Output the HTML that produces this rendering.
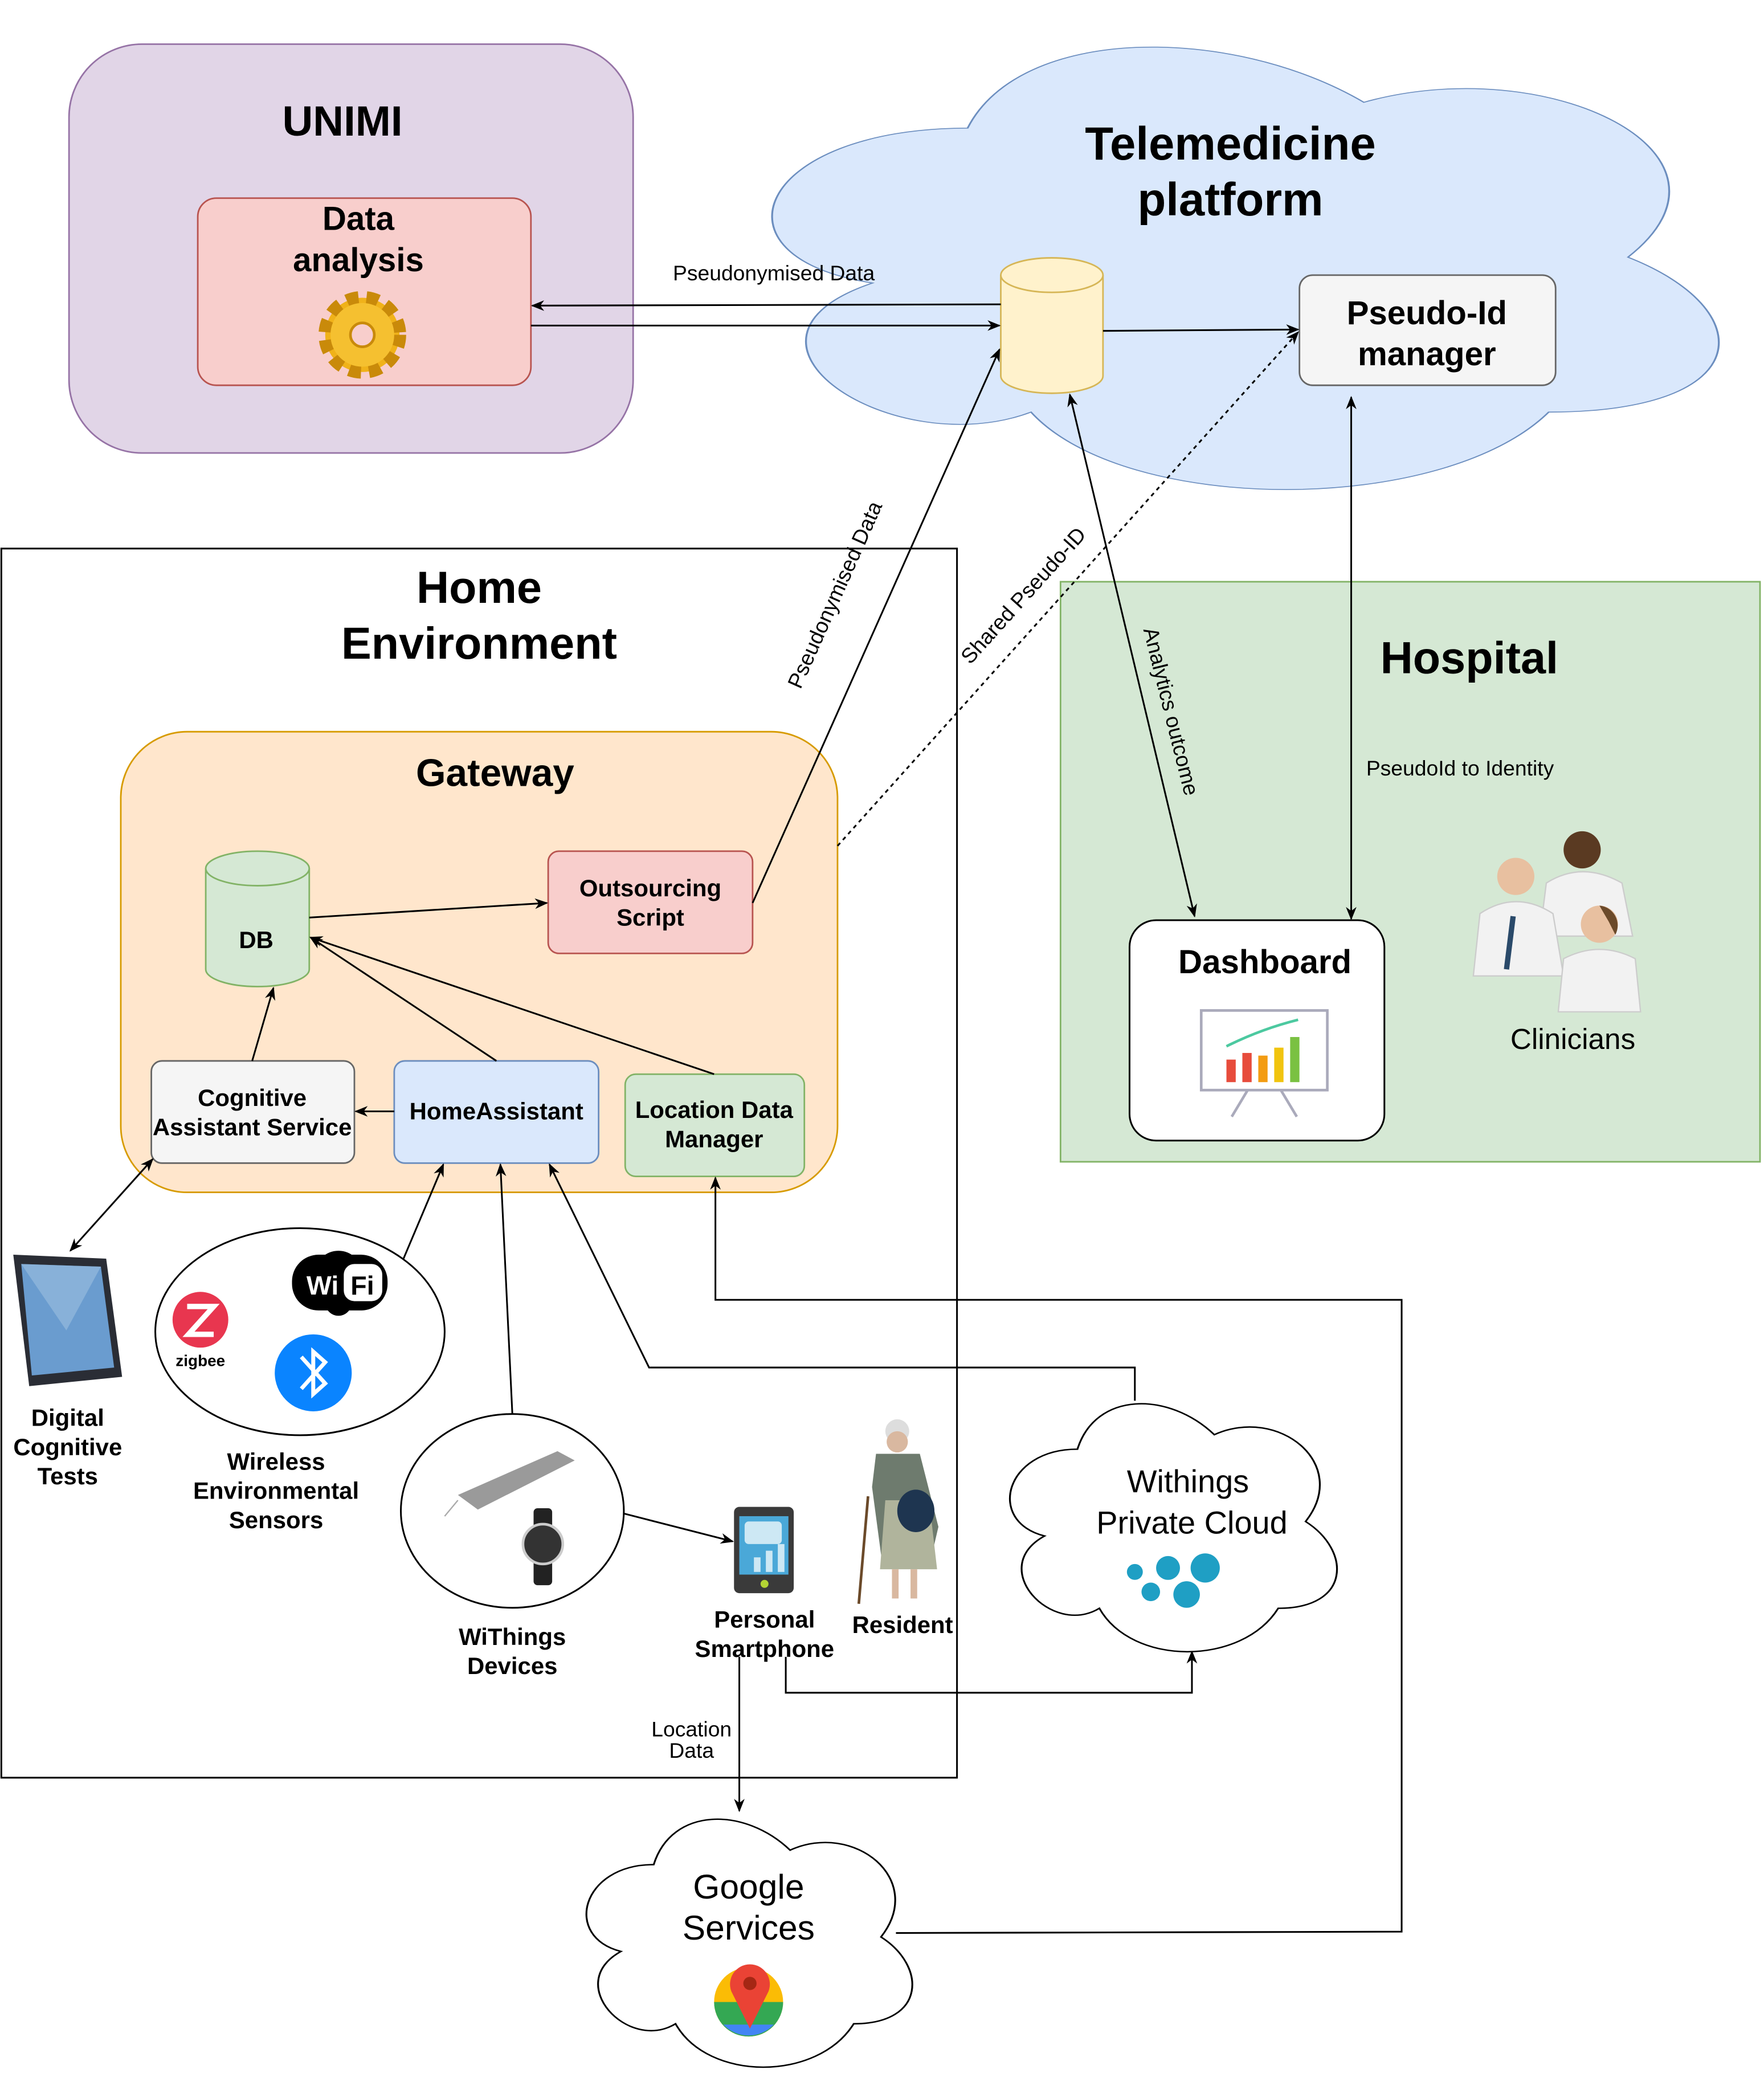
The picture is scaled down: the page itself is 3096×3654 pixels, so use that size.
<!DOCTYPE html>
<html><head><meta charset="utf-8"><style>
html,body{margin:0;padding:0;background:#fff;}
svg{display:block;}
text{font-family:"Liberation Sans",Helvetica,Arial,sans-serif;}
.b{font-weight:bold;}
</style></head><body>
<svg width="3096" height="3654" viewBox="0 0 1329 1568" xmlns="http://www.w3.org/2000/svg">
<defs>
<marker id="a" markerWidth="10" markerHeight="10" refX="9" refY="5" orient="auto" markerUnits="userSpaceOnUse"><path d="M0,1 L10,5 L0,9 L3,5 Z" fill="#000"/></marker>
<marker id="s" markerWidth="10" markerHeight="10" refX="1" refY="5" orient="auto" markerUnits="userSpaceOnUse"><path d="M10,1 L0,5 L10,9 L7,5 Z" fill="#000"/></marker>
<path id="cloud" d="M0.25,0.25 C0.05,0.25 0,0.5 0.16,0.55 C0,0.66 0.18,0.9 0.31,0.8 C0.4,1 0.7,1 0.8,0.8 C1,0.8 1,0.6 0.875,0.5 C1,0.3 0.8,0.1 0.625,0.2 C0.5,0.05 0.3,0.05 0.25,0.25 Z"/>
</defs>

<!-- UNIMI -->
<rect x="52" y="33" width="425" height="308" rx="55" fill="#e1d5e7" stroke="#9673a6" stroke-width="1.2"/>
<text x="258" y="102" font-size="32" class="b" text-anchor="middle">UNIMI</text>
<rect x="149" y="149" width="251" height="141" rx="14" fill="#f8cecc" stroke="#b85450" stroke-width="1.2"/>
<text x="270" y="173" font-size="25" class="b" text-anchor="middle">Data</text>
<text x="270" y="204" font-size="25" class="b" text-anchor="middle">analysis</text>
<g transform="translate(273,252)">
<circle r="28" fill="#f0b21a" stroke="#c98a0a" stroke-width="10" stroke-dasharray="9 6"/>
<circle r="24" fill="#f5c030"/><circle r="9" fill="#f8cecc" stroke="#c98a0a" stroke-width="2"/>
</g>

<!-- Telemedicine cloud -->
<use href="#cloud" transform="translate(530,-1) scale(796,389)" fill="#dae8fc" stroke="#6c8ebf" stroke-width="0.0018"/>
<text x="927" y="120" font-size="35" class="b" text-anchor="middle">Telemedicine</text>
<text x="927" y="162" font-size="35" class="b" text-anchor="middle">platform</text>
<path d="M754,207 L754,283 A38.5,13 0 0 0 831,283 L831,207" fill="#fff2cc" stroke="#d6b656" stroke-width="1.2"/>
<ellipse cx="792.5" cy="207" rx="38.5" ry="13" fill="#fff2cc" stroke="#d6b656" stroke-width="1.2"/>
<rect x="979" y="207" width="193" height="83" rx="10" fill="#f5f5f5" stroke="#666" stroke-width="1.2"/>
<text x="1075" y="244" font-size="25" class="b" text-anchor="middle">Pseudo-Id</text>
<text x="1075" y="275" font-size="25" class="b" text-anchor="middle">manager</text>

<!-- Home env -->
<rect x="1" y="413" width="720" height="926" fill="#fff" stroke="#000" stroke-width="1.3"/>
<text x="361" y="454" font-size="34" class="b" text-anchor="middle">Home</text>
<text x="361" y="496" font-size="34" class="b" text-anchor="middle">Environment</text>

<!-- Hospital -->
<rect x="799" y="438" width="527" height="437" fill="#d5e8d4" stroke="#82b366" stroke-width="1.2"/>
<text x="1107" y="507" font-size="34" class="b" text-anchor="middle">Hospital</text>
<text x="1100" y="584" font-size="16" text-anchor="middle">PseudoId to Identity</text>

<!-- telemedicine arrows -->
<line x1="754" y1="229" x2="401" y2="230" stroke="#000" stroke-width="1.3" marker-end="url(#a)"/>
<line x1="400" y1="245" x2="753" y2="245" stroke="#000" stroke-width="1.3" marker-end="url(#a)"/>
<text x="583" y="211" font-size="16" text-anchor="middle">Pseudonymised Data</text>
<line x1="831" y1="249" x2="978" y2="248" stroke="#000" stroke-width="1.3" marker-end="url(#a)"/>

<!-- Gateway -->
<rect x="91" y="551" width="540" height="347" rx="50" fill="#ffe6cc" stroke="#d79b00" stroke-width="1.2"/>
<text x="373" y="592" font-size="29" class="b" text-anchor="middle">Gateway</text>
<path d="M155,654 L155,730 A39,13 0 0 0 233,730 L233,654" fill="#d5e8d4" stroke="#82b366" stroke-width="1.2"/>
<ellipse cx="194" cy="654" rx="39" ry="13" fill="#d5e8d4" stroke="#82b366" stroke-width="1.2"/>
<text x="193" y="714" font-size="18" class="b" text-anchor="middle">DB</text>
<rect x="413" y="641" width="154" height="77" rx="8" fill="#f8cecc" stroke="#b85450" stroke-width="1.2"/>
<text x="490" y="675" font-size="18" class="b" text-anchor="middle">Outsourcing</text>
<text x="490" y="697" font-size="18" class="b" text-anchor="middle">Script</text>
<rect x="114" y="799" width="153" height="77" rx="8" fill="#f5f5f5" stroke="#666" stroke-width="1.2"/>
<text x="190" y="833" font-size="18" class="b" text-anchor="middle">Cognitive</text>
<text x="190" y="855" font-size="18" class="b" text-anchor="middle">Assistant Service</text>
<rect x="297" y="799" width="154" height="77" rx="8" fill="#dae8fc" stroke="#6c8ebf" stroke-width="1.2"/>
<text x="374" y="843" font-size="18" class="b" text-anchor="middle">HomeAssistant</text>
<rect x="471" y="809" width="135" height="77" rx="8" fill="#d5e8d4" stroke="#82b366" stroke-width="1.2"/>
<text x="538" y="842" font-size="18" class="b" text-anchor="middle">Location Data</text>
<text x="538" y="864" font-size="18" class="b" text-anchor="middle">Manager</text>

<g stroke="#000" stroke-width="1.3" fill="none">
<line x1="233" y1="691" x2="412" y2="680" marker-end="url(#a)"/>
<line x1="567" y1="680" x2="753" y2="263" marker-end="url(#a)"/>
<line x1="631" y1="637" x2="978" y2="250" stroke-dasharray="3 3" marker-end="url(#a)"/>
<line x1="806" y1="297" x2="900" y2="690" marker-start="url(#s)" marker-end="url(#a)"/>
<line x1="1018" y1="299" x2="1018" y2="692" marker-start="url(#s)" marker-end="url(#a)"/>
<line x1="374" y1="799" x2="234" y2="706" marker-end="url(#a)"/>
<line x1="538" y1="809" x2="234" y2="706" marker-end="url(#a)"/>
<line x1="190" y1="799" x2="206" y2="744" marker-end="url(#a)"/>
<line x1="297" y1="837" x2="268" y2="837" marker-end="url(#a)"/>
<line x1="53" y1="942" x2="115" y2="873" marker-start="url(#s)" marker-end="url(#a)"/>
<line x1="304" y1="948" x2="334" y2="877" marker-end="url(#a)"/>
<line x1="386" y1="1065" x2="377" y2="877" marker-end="url(#a)"/>
<polyline points="855,1055 855,1030 489,1030 414,877" marker-end="url(#a)"/>
<polyline points="675,1456 1056,1455 1056,979 539,979 539,887" marker-end="url(#a)"/>
<polyline points="592,1248 592,1275 898,1275 898,1244" marker-end="url(#a)"/>
<line x1="557" y1="1248" x2="557" y2="1364" marker-end="url(#a)"/>
<line x1="470" y1="1140" x2="552" y2="1161" marker-end="url(#a)"/>
</g>
<text transform="translate(634,450) rotate(-66)" font-size="16" text-anchor="middle">Pseudonymised Data</text>
<text transform="translate(775,452) rotate(-48)" font-size="16" text-anchor="middle">Shared Pseudo-ID</text>
<text transform="translate(877,537) rotate(76)" font-size="16" text-anchor="middle">Analytics outcome</text>

<!-- Dashboard -->
<rect x="851" y="693" width="192" height="166" rx="20" fill="#fff" stroke="#000" stroke-width="1.3"/>
<text x="953" y="733" font-size="25" class="b" text-anchor="middle">Dashboard</text>
<rect x="905" y="761" width="95" height="60" fill="#fff" stroke="#aab" stroke-width="2"/>
<rect x="924" y="798" width="7" height="17" fill="#e74c3c"/><rect x="936" y="793" width="7" height="22" fill="#e74c3c"/>
<rect x="948" y="795" width="7" height="20" fill="#f39c12"/><rect x="960" y="789" width="7" height="26" fill="#f1c40f"/><rect x="972" y="781" width="7" height="34" fill="#7ac142"/>
<path d="M924,788 Q950,775 978,768" stroke="#4cc9a0" stroke-width="2" fill="none"/>
<path d="M940,821 L928,841 M965,821 L977,841" stroke="#aab" stroke-width="2"/>

<!-- Clinicians -->
<g>
<circle cx="1192" cy="640" r="14" fill="#5a3a22"/><path d="M1165,665 Q1192,648 1222,665 L1230,705 L1160,705 Z" fill="#f2f2f2" stroke="#ccc"/>
<circle cx="1142" cy="660" r="14" fill="#e8c0a0"/><path d="M1115,688 Q1142,670 1170,688 L1178,735 L1110,735 Z" fill="#f2f2f2" stroke="#ccc"/>
<path d="M1140,690 L1135,730" stroke="#2a4a6a" stroke-width="4"/>
<circle cx="1205" cy="696" r="14" fill="#e8c0a0"/><path d="M1205,682 a15,15 0 0 1 12,22 l-5,-10 z" fill="#6b4a2a"/>
<path d="M1178,722 Q1205,708 1232,722 L1236,762 L1174,762 Z" fill="#f2f2f2" stroke="#ccc"/>
</g>
<text x="1185" y="790" font-size="22" text-anchor="middle">Clinicians</text>

<!-- Tablet -->
<g transform="translate(10,942)"><path d="M0,3 L70,6 L82,95 L12,102 Z" fill="#2a2d35"/><path d="M6,10 L66,12 L76,88 L14,94 Z" fill="#6a9ccf"/><path d="M6,10 L66,12 L40,60 Z" fill="#9cc0e0" opacity="0.6"/></g>
<text x="51" y="1074" font-size="18" class="b" text-anchor="middle">Digital</text>
<text x="51" y="1096" font-size="18" class="b" text-anchor="middle">Cognitive</text>
<text x="51" y="1118" font-size="18" class="b" text-anchor="middle">Tests</text>

<!-- Wireless -->
<ellipse cx="226" cy="1003" rx="109" ry="78" fill="#fff" stroke="#000" stroke-width="1.3"/>
<circle cx="151" cy="994" r="21" fill="#e8364f"/><path d="M141,984 L161,984 L142,1005 L161,1005" stroke="#fff" stroke-width="4" fill="none"/>
<text x="151" y="1029" font-size="12" class="b" text-anchor="middle">zigbee</text>
<rect x="220" y="945" width="72" height="42" rx="20" fill="#000"/><circle cx="255" cy="960" r="18" fill="#000"/><circle cx="255" cy="981" r="10" fill="#000"/>
<text x="243" y="975" font-size="20" class="b" fill="#fff" text-anchor="middle">Wi</text><rect x="259" y="952" width="29" height="28" rx="8" fill="#fff"/><text x="273" y="975" font-size="20" class="b" text-anchor="middle">Fi</text>
<circle cx="236" cy="1034" r="29" fill="#0a84ff"/><path d="M227,1022 L245,1042 L236,1050 L236,1018 L245,1026 L227,1046" stroke="#fff" stroke-width="3" fill="none"/>
<text x="208" y="1107" font-size="18" class="b" text-anchor="middle">Wireless</text>
<text x="208" y="1129" font-size="18" class="b" text-anchor="middle">Environmental</text>
<text x="208" y="1151" font-size="18" class="b" text-anchor="middle">Sensors</text>

<!-- WiThings -->
<ellipse cx="386" cy="1138" rx="84" ry="73" fill="#fff" stroke="#000" stroke-width="1.3"/>
<path d="M345,1126 L420,1093 L433,1100 L360,1137 Z" fill="#9a9a9a"/><line x1="345" y1="1130" x2="335" y2="1142" stroke="#aaa"/>
<rect x="402" y="1136" width="14" height="58" rx="3" fill="#222"/><circle cx="409" cy="1163" r="15" fill="#333" stroke="#ccc" stroke-width="2"/>
<text x="386" y="1239" font-size="18" class="b" text-anchor="middle">WiThings</text>
<text x="386" y="1261" font-size="18" class="b" text-anchor="middle">Devices</text>

<!-- Smartphone -->
<rect x="553" y="1135" width="45" height="65" rx="4" fill="#3a3a3a"/><rect x="557" y="1142" width="37" height="44" fill="#4aa8d8"/>
<rect x="561" y="1146" width="28" height="17" rx="3" fill="#cde8f4"/><rect x="568" y="1173" width="5" height="11" fill="#cde8f4"/><rect x="577" y="1168" width="5" height="16" fill="#cde8f4"/><rect x="586" y="1163" width="5" height="21" fill="#cde8f4"/>
<circle cx="576" cy="1193" r="3" fill="#b3d334"/>
<text x="576" y="1226" font-size="18" class="b" text-anchor="middle">Personal</text>
<text x="576" y="1248" font-size="18" class="b" text-anchor="middle">Smartphone</text>

<!-- Resident -->
<g>
<circle cx="676" cy="1078" r="9" fill="#ddd"/><circle cx="676" cy="1086" r="8" fill="#d9b8a0"/>
<path d="M660,1095 L693,1095 L707,1150 L700,1180 L665,1180 L657,1120 Z" fill="#6e7b6e"/>
<path d="M667,1130 L700,1130 L706,1182 L663,1182 Z" fill="#b0b49c"/>
<ellipse cx="690" cy="1138" rx="14" ry="16" fill="#1e3550"/>
<line x1="654" y1="1127" x2="647" y2="1208" stroke="#6b4a2a" stroke-width="2"/>
<rect x="672" y="1182" width="5" height="22" fill="#d9b8a0"/><rect x="686" y="1182" width="5" height="22" fill="#d9b8a0"/>
</g>
<text x="680" y="1230" font-size="18" class="b" text-anchor="middle">Resident</text>

<!-- Withings cloud -->
<use href="#cloud" transform="translate(743,1037) scale(275,218)" fill="#fff" stroke="#000" stroke-width="0.005"/>
<text x="895" y="1124" font-size="24" text-anchor="middle">Withings</text>
<text x="898" y="1155" font-size="24" text-anchor="middle">Private Cloud</text>
<g fill="#1f9fc4"><circle cx="855" cy="1184" r="6"/><circle cx="880" cy="1181" r="9"/><circle cx="908" cy="1181" r="11"/><circle cx="867" cy="1199" r="7"/><circle cx="894" cy="1201" r="10"/></g>

<!-- Google cloud -->
<use href="#cloud" transform="translate(424,1350) scale(274,218)" fill="#fff" stroke="#000" stroke-width="0.005"/>
<text x="564" y="1430" font-size="26" text-anchor="middle">Google</text>
<text x="564" y="1461" font-size="26" text-anchor="middle">Services</text>
<circle cx="564" cy="1508" r="26" fill="#fbbc05"/><path d="M538,1508 A26,26 0 0 0 590,1508 Z" fill="#34a853"/><path d="M545,1525 A26,26 0 0 0 583,1525 Z" fill="#4285f4"/>
<path d="M565,1528 L551,1500 A15,15 0 1 1 579,1500 Z" fill="#ea4335"/><circle cx="565" cy="1494" r="5" fill="#a52714"/>
<text x="521" y="1308" font-size="16" text-anchor="middle">Location</text>
<text x="521" y="1324" font-size="16" text-anchor="middle">Data</text>
</svg>
</body></html>
